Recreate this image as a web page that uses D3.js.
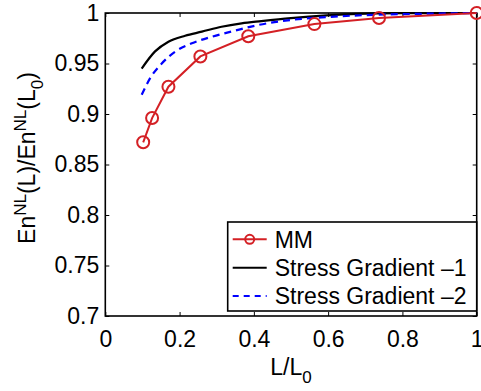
<!DOCTYPE html>
<html>
<head>
<meta charset="utf-8">
<script src="https://cdn.jsdelivr.net/npm/d3@7"></script>
<style>
  body { margin: 0; background: #fff; }
  text { font-family: "Liberation Sans", Arial, Helvetica, sans-serif; }
</style>
</head>
<body>
<div id="chart"></div>
<script>
// data
var mmL = [0.102, 0.126, 0.170, 0.256, 0.385, 0.563, 0.737, 1.0];
var mmE = [0.872, 0.896, 0.927, 0.957, 0.977, 0.989, 0.995, 1.0];

var sg1L = [0.098, 0.134, 0.170, 0.215, 0.260, 0.313, 0.367, 0.420, 0.500, 0.596, 0.680, 0.800, 1.0];
var sg1E = [0.945, 0.962, 0.9716, 0.9775, 0.9815, 0.9864, 0.9898, 0.992, 0.995, 0.9977, 0.9992, 0.9998, 1.0];

var sg2L = [0.098, 0.120, 0.152, 0.188, 0.233, 0.287, 0.349, 0.410, 0.506, 0.596, 0.731, 0.865, 1.0];
var sg2E = [0.919, 0.935, 0.950, 0.9617, 0.970, 0.9765, 0.9825, 0.988, 0.9934, 0.996, 0.9983, 0.9993, 1.0];

var xTicks = [0, 0.2, 0.4, 0.6, 0.8, 1];
var yTicks = [0.7, 0.75, 0.8, 0.85, 0.9, 0.95, 1];
var legendNames = ["MM", "Stress Gradient \u20131", "Stress Gradient \u20132"];

// dimensions
var W = 481, H = 391;
var margin = {top: 13, right: 4.3, bottom: 75, left: 105.3},
  width = W - margin.left - margin.right,
  height = H - margin.top - margin.bottom;

var svg = d3.select("#chart")
  .append("svg")
  .attr("width", W)
  .attr("height", H)
  .append("g")
  .attr("transform", "translate(" + margin.left + "," + margin.top + ")");

var x = d3.scaleLinear().domain([0, 1]).range([0, width]);
var y = d3.scaleLinear().domain([0.7, 1]).range([height, 0]);

var fmt = function(d) { return String(+d.toFixed(2)); };
var FS = "23px";

// axes (ticks inward, mirrored on top / right)
var xAxis = svg.append("g")
  .attr("transform", "translate(0," + height + ")")
  .call(d3.axisBottom(x).tickValues(xTicks).tickFormat(fmt).tickSizeInner(-4).tickSizeOuter(0).tickPadding(10));
var yAxis = svg.append("g")
  .call(d3.axisLeft(y).tickValues(yTicks).tickFormat(fmt).tickSizeInner(-4).tickSizeOuter(0).tickPadding(6));
var xTop = svg.append("g")
  .call(d3.axisTop(x).tickValues(xTicks).tickFormat("").tickSizeInner(-4).tickSizeOuter(0));
var yRight = svg.append("g")
  .attr("transform", "translate(" + width + ",0)")
  .call(d3.axisRight(y).tickValues(yTicks).tickFormat("").tickSizeInner(-4).tickSizeOuter(0));

[xAxis, yAxis, xTop, yRight].forEach(function(a) {
  a.select(".domain").remove();
  a.selectAll("line").attr("stroke", "#000").attr("stroke-width", 1);
  a.selectAll("text").attr("fill", "#000").style("font-size", FS)
    .style("font-family", "'Liberation Sans', Arial, sans-serif");
});
xAxis.selectAll("text").attr("dy", "0.9em");

// frame
svg.append("rect")
  .attr("x", 0).attr("y", 0)
  .attr("width", width).attr("height", height)
  .attr("fill", "none")
  .attr("stroke", "#000")
  .attr("stroke-width", 1.6);

var red = "#d42025";
var line = d3.line()
  .x(function(d) { return x(d[0]); })
  .y(function(d) { return y(d[1]); });

// Stress Gradient -1
svg.append("path")
  .datum(d3.zip(sg1L, sg1E))
  .attr("fill", "none")
  .attr("stroke", "#000")
  .attr("stroke-width", 2.2)
  .attr("d", line.curve(d3.curveMonotoneX));

// Stress Gradient -2
svg.append("path")
  .datum(d3.zip(sg2L, sg2E))
  .attr("fill", "none")
  .attr("stroke", "#0000ff")
  .attr("stroke-width", 2.2)
  .attr("stroke-dasharray", "7,5")
  .attr("d", line.curve(d3.curveMonotoneX));

// MM
var mm = d3.zip(mmL, mmE);
svg.append("path")
  .datum(mm)
  .attr("fill", "none")
  .attr("stroke", red)
  .attr("stroke-width", 2)
  .attr("d", line.curve(d3.curveLinear));
svg.selectAll(".mm")
  .data(mm)
  .enter().append("circle")
  .attr("cx", function(d) { return x(d[0]); })
  .attr("cy", function(d) { return y(d[1]); })
  .attr("r", 6)
  .attr("fill", "none")
  .attr("stroke", red)
  .attr("stroke-width", 2);

// legend
var lg = svg.append("g").attr("transform", "translate(" + (227.7 - margin.left) + "," + (222 - margin.top) + ")");
lg.append("rect")
  .attr("width", 249).attr("height", 89)
  .attr("fill", "#fff").attr("stroke", "#000").attr("stroke-width", 1.6);
var rows = [
  {c: red, dash: null, marker: true},
  {c: "#000", dash: null, marker: false},
  {c: "#0000ff", dash: "6,5", marker: false}
];
rows.forEach(function(r, i) {
  var yy = 17.3 + i * 28.4;
  lg.append("line")
    .attr("x1", 5).attr("x2", 39).attr("y1", yy).attr("y2", yy)
    .attr("stroke", r.c).attr("stroke-width", 2)
    .attr("stroke-dasharray", r.dash);
  if (r.marker) {
    lg.append("circle").attr("cx", 22).attr("cy", yy).attr("r", 4.5)
      .attr("fill", "none").attr("stroke", r.c).attr("stroke-width", 2);
  }
  lg.append("text")
    .attr("x", 47).attr("y", yy).attr("dy", "0.36em")
    .style("font-size", FS)
    .text(legendNames[i]);
});

// x label
var xl = svg.append("text")
  .attr("x", width / 2)
  .attr("y", 375 - margin.top)
  .attr("text-anchor", "middle")
  .style("font-size", FS);
xl.append("tspan").text("L/L");
xl.append("tspan").attr("dy", 8).style("font-size", "17px").text("0");

// y label
var yl = svg.append("text")
  .attr("transform", "translate(" + (35 - margin.left) + "," + (158 - margin.top) + ") rotate(-90)")
  .attr("text-anchor", "middle")
  .style("font-size", FS);
yl.append("tspan").text("En");
yl.append("tspan").attr("dy", -9).style("font-size", "17px").text("NL");
yl.append("tspan").attr("dy", 9).text("(L)/En");
yl.append("tspan").attr("dy", -9).style("font-size", "17px").text("NL");
yl.append("tspan").attr("dy", 9).text("(L");
yl.append("tspan").attr("dy", 8).style("font-size", "17px").text("0");
yl.append("tspan").attr("dy", -8).text(")");
</script>
</body>
</html>
